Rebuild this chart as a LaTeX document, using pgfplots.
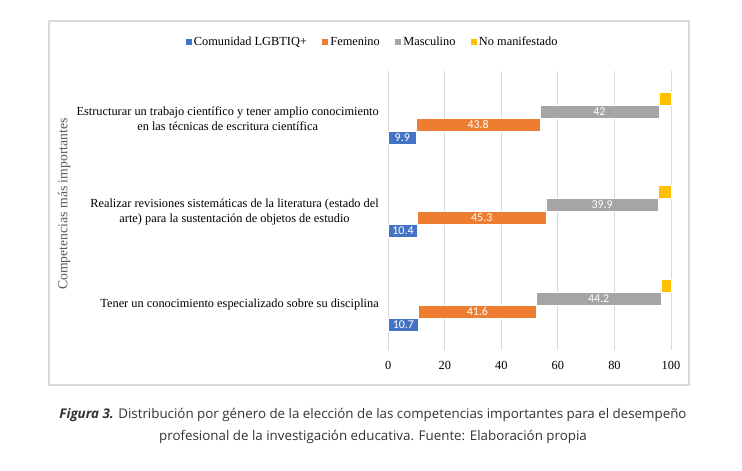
\documentclass[border=0pt]{standalone}
\usepackage{pgfplots}
\usepackage{pgfplotstable}
\pgfplotsset{compat=1.18}
\usepackage{fontspec}
\setmainfont{Liberation Serif}
\newfontfamily\labelfont{Carlito}
\newfontfamily\capfont{Open Sans}

\definecolor{cLGBT}{HTML}{4472C4}
\definecolor{cFem}{HTML}{ED7D31}
\definecolor{cMasc}{HTML}{A5A5A5}
\definecolor{cNM}{HTML}{FFC000}
\definecolor{gridgray}{HTML}{D9D9D9}
\definecolor{axlabel}{HTML}{595959}
\definecolor{captext}{HTML}{333333}

% percentages by competence (0 = bottom row, 2 = top row)
\pgfplotstableread{
y lgbt fem masc nm
0 10.7 41.6 44.2 3.5
1 10.4 45.3 39.9 4.4
2 9.9 43.8 42 4.3
}\datatable

% shared geometry of the plot area
\pgfplotsset{plotarea/.style={
  at={(388.3bp,121bp)}, anchor=south west,
  scale only axis, width=282.7bp, height=279bp,
  xmin=0, xmax=100, ymin=-0.482, ymax=2.507, clip=false,
  /pgf/number format/assume math mode=true}}

\begin{document}
\begin{tikzpicture}
\path[use as bounding box, fill=white] (0bp,0bp) rectangle (742bp,471bp);
\draw[gridgray, line width=1.2bp] (49bp,450bp) rectangle (689bp,86bp);

\begin{axis}[
  plotarea,
  xbar stacked, bar width=13bp,
  axis line style={draw=none},
  xtick={0,20,...,100}, ytick={0,1,2},
  tick style={draw=none},
  xmajorgrids, major grid style={gridgray, line width=0.9bp},
  tick label style={font=\fontsize{12.4}{15}\selectfont},
  xticklabel style={yshift=-8bp},
  yticklabels={{Tener un conocimiento especializado sobre su disciplina},
    {Realizar revisiones sistemáticas de la literatura (estado del\\arte) para la sustentación de objetos de estudio},
    {Estructurar un trabajo científico y tener amplio conocimiento\\en las técnicas de escritura científica}},
  yticklabel style={align=center, xshift=-6bp},
  ylabel={Competencias más importantes},
  ylabel style={at={(axis description cs:-1.147,0.523)}, anchor=center,
    font=\fontsize{13.8}{15}\selectfont, color=axlabel},
  legend columns=4,
  legend style={at={(axis description cs:-0.0577,1.104)}, anchor=center,
    draw=none, fill=none, font=\fontsize{12.4}{14}\selectfont,
    nodes={inner sep=1.5bp},
    /tikz/every even column/.append style={column sep=13bp}},
  legend image code/.code={\fill[#1] (0bp,-3.5bp) rectangle (7bp,3.5bp);},
]
\addplot[fill=cLGBT, draw=white, line width=0.5bp, bar shift=-19.5bp]
  table[x=lgbt, y=y] {\datatable};
\addlegendentry{Comunidad LGBTIQ+}
\addplot[fill=cFem, draw=white, line width=0.5bp, bar shift=-6.5bp]
  table[x=fem, y=y] {\datatable};
\addlegendentry{Femenino}
\addplot[fill=cMasc, draw=white, line width=0.5bp, bar shift=6.5bp]
  table[x=masc, y=y] {\datatable};
\addlegendentry{Masculino}
\addplot[fill=cNM, draw=white, line width=0.5bp, bar shift=19.5bp]
  table[x=nm, y=y] {\datatable};
\addlegendentry{No manifestado}
\end{axis}

% value labels, centred in each segment (1 bp of bar shift = 1/93.34 y units)
\begin{axis}[
  plotarea, hide axis,
  point meta=explicit,
  nodes near coords={\pgfmathprintnumber{\pgfplotspointmeta}},
  every node near coord/.append style={anchor=center, text=white,
    font=\labelfont\fontsize{12}{14}\selectfont},
  labelpts/.style={only marks, mark=text, text mark={}, nodes near coords},
]
\addplot[labelpts]
  table[x expr=0.5*\thisrow{lgbt}, y expr=\thisrow{y}-0.2089, meta=lgbt] {\datatable};
\addplot[labelpts]
  table[x expr=\thisrow{lgbt}+0.5*\thisrow{fem}, y expr=\thisrow{y}-0.0696, meta=fem] {\datatable};
\addplot[labelpts]
  table[x expr=\thisrow{lgbt}+\thisrow{fem}+0.5*\thisrow{masc}, y expr=\thisrow{y}+0.0696, meta=masc] {\datatable};
\end{axis}

\node[align=center, text=captext, font=\capfont\fontsize{13.4}{22.5}\selectfont]
  at (373bp,45bp) {\textbf{\textit{Figura 3.}} Distribución por género de la elección de las competencias importantes para el desempeño\\
  profesional de la investigación educativa. Fuente: Elaboración propia};
\end{tikzpicture}
\end{document}
